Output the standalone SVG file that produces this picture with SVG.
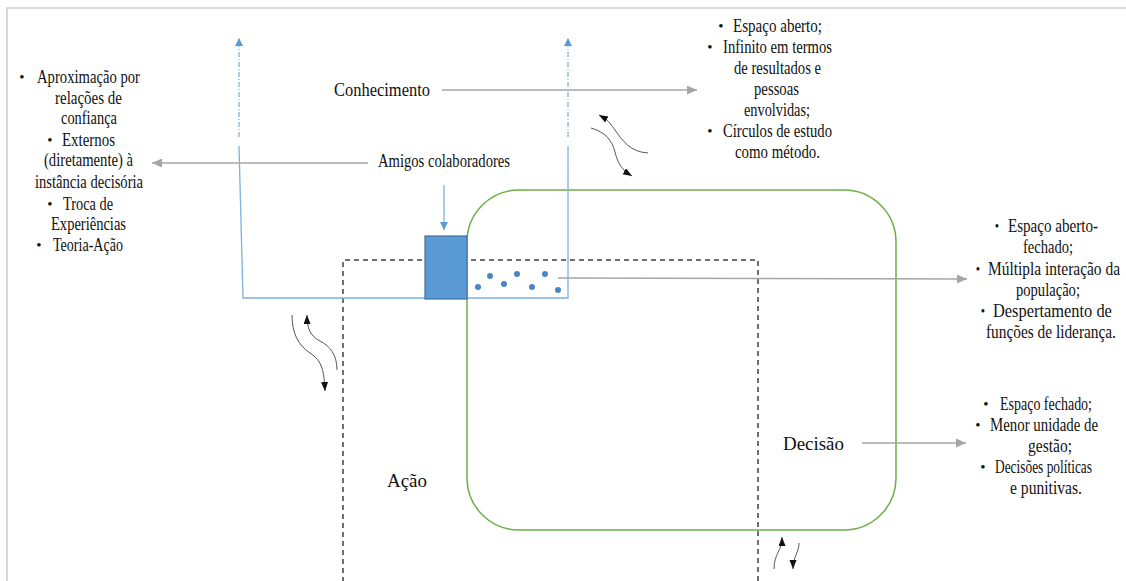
<svg xmlns="http://www.w3.org/2000/svg" width="1126" height="581" viewBox="0 0 1126 581" font-family="Liberation Serif, Times New Roman, serif">
<defs>
<style>
text{font-family:"Liberation Serif","Times New Roman",serif}
.t{font-size:18px;fill:#111}
.b{font-size:15px;fill:#111;text-anchor:middle}
.grey{stroke:#a6a6a6;stroke-width:1.6;fill:none}
.bluedash{stroke:#5b9bd5;stroke-width:1;fill:none;stroke-dasharray:5 2 1 2}
.blue{stroke:#7fb0de;stroke-width:1.3;fill:none}
.wave{stroke:#555;stroke-width:1;fill:none}
</style>
<marker id="ag" markerUnits="userSpaceOnUse" markerWidth="11" markerHeight="9" refX="10" refY="4.5" orient="auto"><path d="M0,0 L10,4.5 L0,9 z" fill="#a6a6a6"/></marker>
<marker id="ab" markerUnits="userSpaceOnUse" markerWidth="9" markerHeight="9" refX="8" refY="4" orient="auto"><path d="M0,0 L8,4 L0,8 z" fill="#5b9bd5"/></marker>
<marker id="ak" markerUnits="userSpaceOnUse" markerWidth="10" markerHeight="8" refX="9" refY="3.5" orient="auto"><path d="M0,0 L9,3.5 L0,7 z" fill="#111"/></marker>
</defs>
<rect width="1126" height="581" fill="#fff"/>
<path d="M7,581 V8 H1126" fill="none" stroke="#d9d9d9" stroke-width="2"/>

<g id="acao-area">
<path d="M343,600 V260 H758 V600" fill="none" stroke="#404040" stroke-width="1.5" stroke-dasharray="5 4"/>
</g>
<g id="decisao-area">
<rect x="467" y="190" width="429" height="340" rx="52" ry="52" fill="none" stroke="#70ad47" stroke-width="1.5"/>
</g>

<g id="connectors">
<line class="bluedash" x1="239" y1="137" x2="239" y2="38" marker-end="url(#ab)"/>
<line class="bluedash" x1="568" y1="137" x2="568" y2="38" marker-end="url(#ab)"/>
<path class="blue" d="M239,146 L243,298 H568 V146"/>
<line class="blue" x1="444" y1="185" x2="444" y2="230" marker-end="url(#ab)"/>
<line class="grey" x1="442" y1="90" x2="697" y2="90" marker-end="url(#ag)"/>
<line class="grey" x1="368" y1="163" x2="152" y2="163" marker-end="url(#ag)"/>
<line class="grey" x1="558" y1="278" x2="967" y2="279" marker-end="url(#ag)"/>
<line class="grey" x1="862" y1="443" x2="966" y2="443" marker-end="url(#ag)"/>
<path class="wave" d="M648,153 C630,152 622,140 615,130 S606,119 599,115" marker-end="url(#ak)"/>
<path class="wave" d="M591,128 C605,132 612,140 615,152 S622,170 632,176" marker-end="url(#ak)"/>
<path class="wave" d="M292,315 C292,333 298,345 310,353 S324,370 325,391" marker-end="url(#ak)"/>
<path class="wave" d="M337,370 C337,355 330,346 320,341 S307,328 307,315" marker-end="url(#ak)"/>
<path class="wave" d="M774,569 C774,553 782,552 782,537" marker-end="url(#ak)"/>
<path class="wave" d="M799,543 C799,553 793,556 793,569" marker-end="url(#ak)"/>
</g>

<g id="amigos-box">
<rect x="425" y="236" width="42" height="63" fill="#5b9bd5" stroke="#41719c" stroke-width="1.2"/>
</g>
<g id="dots" fill="#4a86c5">
<circle cx="478" cy="287" r="3"/>
<circle cx="490" cy="276" r="3"/>
<circle cx="504" cy="284" r="3"/>
<circle cx="517" cy="274" r="3"/>
<circle cx="532" cy="287" r="3"/>
<circle cx="545" cy="274" r="3"/>
<circle cx="558" cy="290" r="3"/>
</g>

<g id="conhecimento"><text class="t" x="334" y="96" textLength="96" lengthAdjust="spacingAndGlyphs">Conhecimento</text></g>
<g id="amigos"><text class="t" x="378" y="167" textLength="132" lengthAdjust="spacingAndGlyphs">Amigos colaboradores</text></g>
<g id="decisao"><text class="t" x="783" y="450" textLength="61" lengthAdjust="spacingAndGlyphs">Decisão</text></g>
<g id="acao"><text class="t" x="387" y="487" textLength="40" lengthAdjust="spacingAndGlyphs">Ação</text></g>

<g id="list-left">
<text class="b" x="22" y="82">•</text>
<text class="t" x="37" y="83" textLength="103" lengthAdjust="spacingAndGlyphs">Aproximação por</text>
<text class="t" x="55" y="104" textLength="67" lengthAdjust="spacingAndGlyphs">relações de</text>
<text class="t" x="61" y="124" textLength="56" lengthAdjust="spacingAndGlyphs">confiança</text>
<text class="b" x="50" y="145">•</text>
<text class="t" x="62" y="146" textLength="53" lengthAdjust="spacingAndGlyphs">Externos</text>
<text class="t" x="44" y="166" textLength="89" lengthAdjust="spacingAndGlyphs">(diretamente) à</text>
<text class="t" x="35" y="188" textLength="108" lengthAdjust="spacingAndGlyphs">instância decisória</text>
<text class="b" x="50" y="209">•</text>
<text class="t" x="63" y="210" textLength="50" lengthAdjust="spacingAndGlyphs">Troca de</text>
<text class="t" x="51" y="230" textLength="75" lengthAdjust="spacingAndGlyphs">Experiências</text>
<text class="b" x="39" y="250">•</text>
<text class="t" x="53" y="251" textLength="70" lengthAdjust="spacingAndGlyphs">Teoria-Ação</text>
</g>

<g id="list-top-right">
<text class="b" x="721" y="31">•</text>
<text class="t" x="733" y="32" textLength="89" lengthAdjust="spacingAndGlyphs">Espaço aberto;</text>
<text class="b" x="710" y="52">•</text>
<text class="t" x="723" y="53" textLength="109" lengthAdjust="spacingAndGlyphs">Infinito em termos</text>
<text class="t" x="734" y="74" textLength="87" lengthAdjust="spacingAndGlyphs">de resultados e</text>
<text class="t" x="754" y="95" textLength="45" lengthAdjust="spacingAndGlyphs">pessoas</text>
<text class="t" x="744" y="116" textLength="66" lengthAdjust="spacingAndGlyphs">envolvidas;</text>
<text class="b" x="710" y="136">•</text>
<text class="t" x="723" y="137" textLength="109" lengthAdjust="spacingAndGlyphs">Círculos de estudo</text>
<text class="t" x="735" y="158" textLength="85" lengthAdjust="spacingAndGlyphs">como método.</text>
</g>

<g id="list-mid-right" transform="translate(986,0) scale(0.82,1)">
<text class="b" x="13.4" y="231">•</text>
<text class="t" x="26.8" y="232" textLength="109.8" lengthAdjust="spacingAndGlyphs">Espaço aberto-</text>
<text class="t" x="45.1" y="253" textLength="61" lengthAdjust="spacingAndGlyphs">fechado;</text>
<text class="b" x="-9.8" y="274">•</text>
<text class="t" x="2.4" y="275" textLength="161" lengthAdjust="spacingAndGlyphs">Múltipla interação da</text>
<text class="t" x="36.6" y="296" textLength="78" lengthAdjust="spacingAndGlyphs">população;</text>
<text class="b" x="-3.7" y="316">•</text>
<text class="t" x="8.5" y="317" textLength="145" lengthAdjust="spacingAndGlyphs">Despertamento de</text>
<text class="t" x="0" y="338" textLength="158.5" lengthAdjust="spacingAndGlyphs">funções de liderança.</text>
</g>

<g id="list-bottom-right">
<text class="b" x="986" y="409">•</text>
<text class="t" x="1000" y="410" textLength="92" lengthAdjust="spacingAndGlyphs">Espaço fechado;</text>
<text class="b" x="978" y="430">•</text>
<text class="t" x="990" y="431" textLength="108" lengthAdjust="spacingAndGlyphs">Menor unidade de</text>
<text class="t" x="1028" y="452" textLength="44" lengthAdjust="spacingAndGlyphs">gestão;</text>
<text class="b" x="983" y="472">•</text>
<text class="t" x="995" y="473" textLength="97" lengthAdjust="spacingAndGlyphs">Decisões políticas</text>
<text class="t" x="1010" y="494" textLength="72" lengthAdjust="spacingAndGlyphs">e punitivas.</text>
</g>
</svg>
